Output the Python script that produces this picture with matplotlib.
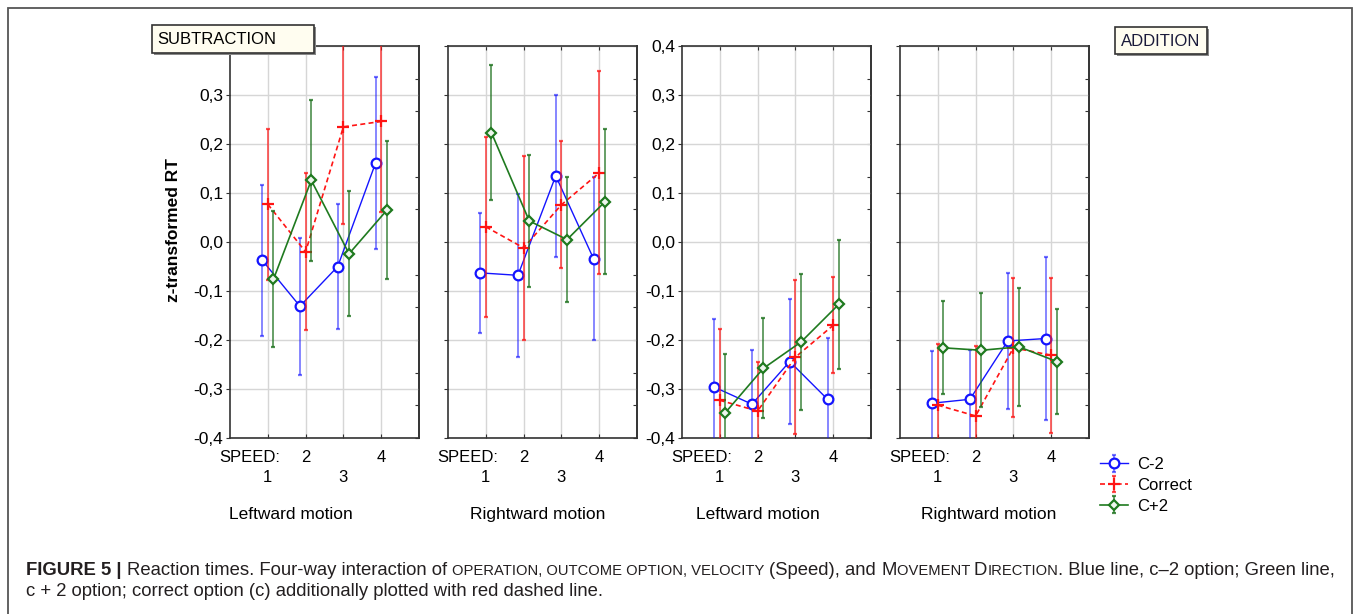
import numpy as np
import matplotlib.pyplot as plt
from matplotlib.patches import Rectangle

plt.rcParams['font.family'] = ['Liberation Sans', 'DejaVu Sans']

W, H = 1357, 614   # output size in pixels

# ---- data ----
speeds = np.array([1, 2, 3, 4])
motion_labels = ["Leftward motion", "Rightward motion", "Leftward motion", "Rightward motion"]
series_names = ["C-2", "Correct", "C+2"]
y_ticks = [-0.4, -0.3, -0.2, -0.1, 0.0, 0.1, 0.2, 0.3, 0.4]

# rows: subtraction-left, subtraction-right, addition-left, addition-right
cminus2_mean = [[-0.037, -0.131, -0.050, 0.161],
                [-0.063, -0.068, 0.135, -0.034],
                [-0.296, -0.331, -0.244, -0.321],
                [-0.329, -0.321, -0.202, -0.197]]
cminus2_err = [[0.154, 0.140, 0.127, 0.175],
               [0.123, 0.166, 0.166, 0.166],
               [0.138, 0.110, 0.128, 0.126],
               [0.107, 0.100, 0.138, 0.167]]

correct_mean = [[0.077, -0.020, 0.235, 0.246],
                [0.031, -0.012, 0.076, 0.141],
                [-0.323, -0.345, -0.235, -0.170],
                [-0.333, -0.355, -0.216, -0.231]]
correct_err = [[0.154, 0.160, 0.199, 0.185],
               [0.184, 0.188, 0.130, 0.207],
               [0.145, 0.100, 0.157, 0.098],
               [0.124, 0.142, 0.142, 0.158]]

cplus2_mean = [[-0.076, 0.126, -0.024, 0.065],
               [0.223, 0.043, 0.005, 0.082],
               [-0.348, -0.258, -0.204, -0.127],
               [-0.216, -0.221, -0.214, -0.244]]
cplus2_err = [[0.139, 0.164, 0.128, 0.141],
              [0.138, 0.135, 0.128, 0.148],
              [0.120, 0.102, 0.139, 0.132],
              [0.095, 0.116, 0.120, 0.108]]

series_means = [cminus2_mean, correct_mean, cplus2_mean]
series_errs = [cminus2_err, correct_err, cplus2_err]

# ---- styles ----
styles = [
    dict(color='#1414ff', ecolor=(0.08, 0.08, 1.0, 0.6), marker='o', ms=7, mew=1.6,
         mfc='white', ls='-', lw=1.0, zorder=3),
    dict(color='#ff1414', ecolor=(1.0, 0.08, 0.08, 0.75), marker='+', ms=9, mew=1.6,
         ls=(0, (3, 2)), lw=1.2, zorder=4),
    dict(color='#1f7a1f', ecolor=(0.12, 0.45, 0.12, 0.8), marker='D', ms=5.5, mew=1.6,
         mfc='#eef6ee', ls='-', lw=1.2, zorder=5),
]
offsets = [-0.15, 0.0, 0.15]


def px(x, y):
    return (x / W, 1 - y / H)


def fmt(v):
    return f"{v:.1f}".replace('.', ',')


fig = plt.figure(figsize=(W / 100, H / 100), dpi=100)

panel_left = [230, 448, 682, 900]
panel_w, panel_top, panel_bot = 189, 46, 438
motion_x = [291, 538, 758, 989]

handles = None
for i, left in enumerate(panel_left):
    ax = fig.add_axes([left / W, 1 - panel_bot / H, panel_w / W, (panel_bot - panel_top) / H])
    ax.set_xlim(0, 5)
    ax.set_ylim(-0.4, 0.4)
    ax.set_xticks(speeds)
    ax.set_xticklabels([])
    ax.set_yticks(y_ticks)
    if i == 2:
        ax.set_yticklabels([fmt(v) for v in y_ticks])
    elif i == 0:
        # top label sits under the SUBTRACTION box
        ax.set_yticklabels([fmt(v) for v in y_ticks[:-1]] + [''])
    else:
        ax.set_yticklabels([])
    ax.grid(True, color='#d6d6d6', lw=1)
    ax.set_axisbelow(True)
    ax.tick_params(axis='x', direction='in', top=True, length=3, color='#333333')
    ax.tick_params(axis='y', direction='out', length=3, labelsize=12.5, pad=2, color='#333333')
    for sp in ax.spines.values():
        sp.set_color('#333333')
        sp.set_linewidth(1.2)
    sec = ax.secondary_yaxis('right')
    sec.set_yticks(np.linspace(-0.4, 0.4, 13))
    sec.tick_params(direction='in', length=3, labelright=False, color='#333333')
    sec.spines['right'].set_color('#333333')
    sec.spines['right'].set_linewidth(1.2)

    conts = []
    for means, errs, st, off in zip(series_means, series_errs, styles, offsets):
        c = ax.errorbar(speeds + off, means[i], yerr=errs[i], capsize=1.5, capthick=1,
                        elinewidth=1.2, **st)
        conts.append(c)
    if handles is None:
        handles = conts

    # speed labels under the axis
    ax.text(1.33, -0.439, "SPEED:", ha='right', va='center', fontsize=12, clip_on=False)
    for s in speeds:
        yy = -0.439 if s % 2 == 0 else -0.48
        ax.text(s, yy, str(s), ha='center', va='center', fontsize=12, clip_on=False)
    fig.text(*px(motion_x[i], 519), motion_labels[i], ha='center', va='baseline', fontsize=12.5)

fig.text(*px(173, 230), "z-transformed RT", rotation=90, ha='center', va='center',
         fontsize=12.5, weight='bold')

# operation boxes
fig.add_artist(Rectangle(px(154, 55), 162 / W, 28 / H, transform=fig.transFigure,
                         fc='#888888', ec='none', zorder=9))
fig.add_artist(Rectangle(px(152, 53), 162 / W, 28 / H, transform=fig.transFigure,
                         fc='#fffdf0', ec='#333333', lw=1.2, zorder=10))
fig.text(*px(157, 40), "SUBTRACTION", ha='left', va='center', fontsize=12, zorder=11)

fig.add_artist(Rectangle(px(1117, 56), 92 / W, 27 / H, transform=fig.transFigure,
                         fc='#888888', ec='none', zorder=9))
fig.add_artist(Rectangle(px(1115, 54), 92 / W, 27 / H, transform=fig.transFigure,
                         fc='#fffdf0', ec='#333333', lw=1.2, zorder=10))
fig.text(*px(1161, 41), "ADDITION", ha='center', va='center', fontsize=12,
         color='#1a1a3a', zorder=11)

fig.legend(handles, series_names, loc='upper left', bbox_to_anchor=px(1100, 457),
           frameon=False, fontsize=12, handlelength=1.7, labelspacing=0.35,
           handletextpad=0.5, borderpad=0, borderaxespad=0)

# outer frame
fig.add_artist(Rectangle(px(8, 640), 1344 / W, 632 / H, transform=fig.transFigure,
                         fill=False, ec='#555555', lw=1.3))

# ---- caption with small caps runs ----
renderer = fig.canvas.get_renderer()
cap_color = '#231f20'


def text_width(s, size, weight):
    t = fig.text(0, 0, "|" + s + "|", fontsize=size, weight=weight)
    t2 = fig.text(0, 0, "||", fontsize=size, weight=weight)
    w = t.get_window_extent(renderer).width - t2.get_window_extent(renderer).width
    t.remove()
    t2.remove()
    return w


def draw_runs(x0, y0, runs, size, draw=True):
    x = x0
    for s, weight, scale in runs:
        fs = size * scale
        lead = len(s) - len(s.lstrip(' '))
        if draw:
            xs = x + (text_width(' ' * lead, fs, weight) if lead else 0)
            fig.text(*px(xs, y0), s.lstrip(' '), fontsize=fs, weight=weight,
                     color=cap_color, ha='left', va='baseline')
        x += text_width(s, fs, weight)
    return x


line1 = [("FIGURE 5 |", 'bold', 1.0),
         (" Reaction times. Four-way interaction of ", 'normal', 1.0),
         ("OPERATION, OUTCOME OPTION, VELOCITY", 'normal', 0.8),
         (" (Speed), and ", 'normal', 1.0),
         ("M", 'normal', 1.0), ("OVEMENT ", 'normal', 0.8),
         ("D", 'normal', 1.0), ("IRECTION", 'normal', 0.8),
         (". Blue line, c\u20132 option; Green line,", 'normal', 1.0)]
line2 = [("c + 2 option; correct option (c) additionally plotted with red dashed line.", 'normal', 1.0)]

base = 10.5
end = draw_runs(26, 575, line1, base, draw=False)
size = base * (1340 - 26) / (end - 26)
draw_runs(26, 575, line1, size)
draw_runs(26, 596, line2, size)

fig.savefig("out.png", dpi=100)
